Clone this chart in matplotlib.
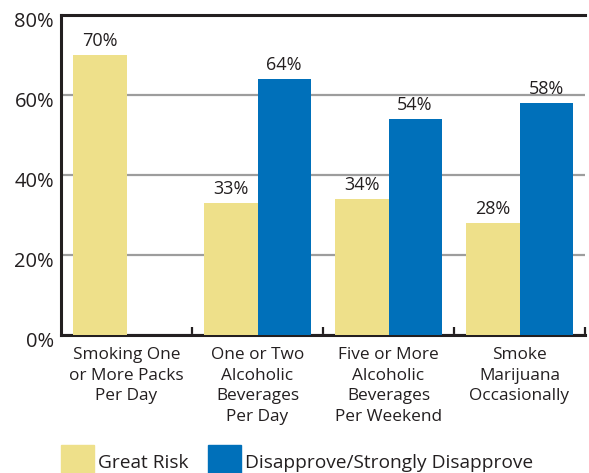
import matplotlib
matplotlib.use("Agg")
import matplotlib.pyplot as plt
from matplotlib.patches import Rectangle
from matplotlib.transforms import ScaledTranslation

plt.rcParams['font.family'] = ['Open Sans', 'DejaVu Sans']

categories = ["Smoking One\nor More Packs\nPer Day",
              "One or Two\nAlcoholic\nBeverages\nPer Day",
              "Five or More\nAlcoholic\nBeverages\nPer Weekend",
              "Smoke\nMarijuana\nOccasionally"]
great_risk = [70, 33, 34, 28]
disapprove = [None, 64, 54, 58]
yticks = [0, 20, 40, 60, 80]
series_names = ['Great Risk', 'Disapprove/Strongly Disapprove']

yellow = '#EEE08A'
blue = '#0070BA'
ink = '#231F20'
w = 0.405

fig = plt.figure(figsize=(5.89, 4.73), dpi=100)
ax = fig.add_axes([61 / 589, 1 - 335 / 473, 524 / 589, 320 / 473])

for i, (g, d) in enumerate(zip(great_risk, disapprove)):
    ax.bar(i, g, width=-w, align='edge', color=yellow, zorder=3)
    ax.text(i - w / 2, g + 1.3, f"{g}%", ha='center', va='bottom',
            fontsize=13, color=ink)
    if d is not None:
        ax.bar(i, d, width=w, align='edge', color=blue, zorder=3)
        ax.text(i + w / 2, d + 1.3, f"{d}%", ha='center', va='bottom',
                fontsize=13, color=ink)

ax.set_xlim(-0.5, len(categories) - 0.5)
ax.set_ylim(0, 80)
ax.set_yticks(yticks)
ax.set_yticklabels([f"{t}%" for t in yticks], fontsize=14.5, color=ink)
ax.tick_params(axis='y', length=0, pad=5)
shift = ScaledTranslation(0, -3 / 72, fig.dpi_scale_trans)
for lbl in ax.get_yticklabels():
    lbl.set_transform(lbl.get_transform() + shift)
ax.yaxis.grid(True, color='#9D9D9D', linewidth=1.6, zorder=0)

ax.set_xticks([i + 0.5 for i in range(len(categories))])
ax.set_xticklabels([])
ax.tick_params(axis='x', direction='in', length=6, width=1.6, color=ink)
for i, c in enumerate(categories):
    ax.text(i, -3.0, c, ha='center', va='top', fontsize=12.4, color=ink,
            linespacing=1.38)

ax.spines['right'].set_visible(False)
for s in ['left', 'top', 'bottom']:
    ax.spines[s].set_linewidth(2.2)
    ax.spines[s].set_color(ink)

# legend swatches along the bottom edge
for x0, col, name in [(61, yellow, series_names[0]), (208, blue, series_names[1])]:
    fig.patches.append(Rectangle((x0 / 589, 0), 33 / 589, 28 / 473,
                                 transform=fig.transFigure, color=col))
    fig.text((x0 + 37) / 589, 10 / 473, name, ha='left', va='center',
             fontsize=13.8, color=ink)

fig.savefig('out.png', dpi=100)
